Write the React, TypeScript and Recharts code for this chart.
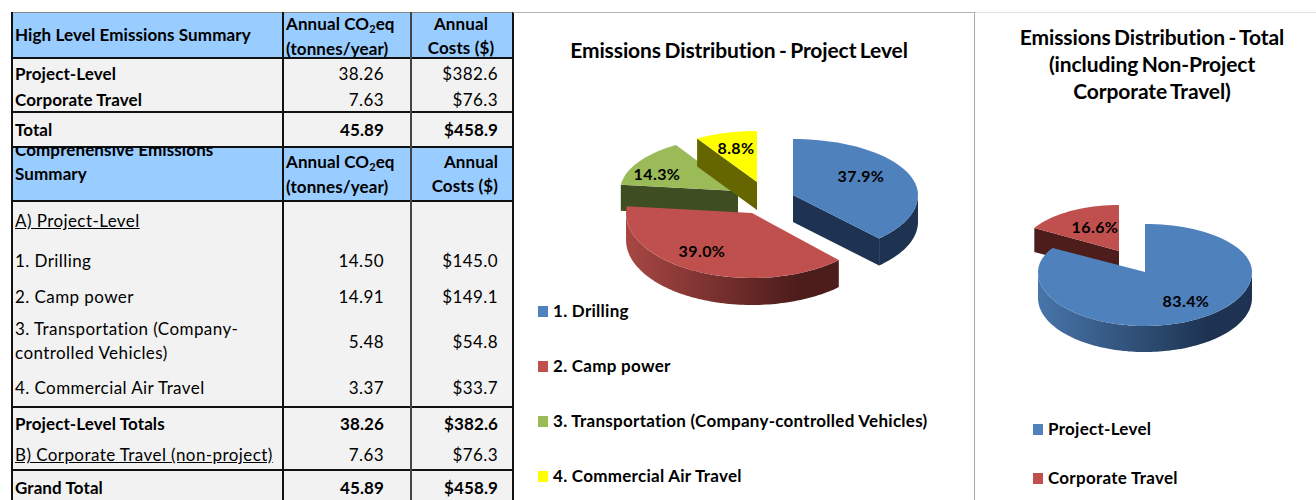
import React from "react";
import { PieChart, Pie, Legend } from "recharts";

const projectNames = ["1. Drilling", "2. Camp power", "3. Transportation (Company-controlled Vehicles)", "4. Commercial Air Travel"];
const projectValues = [14.5, 14.91, 5.48, 3.37];
const totalNames = ["Project-Level", "Corporate Travel"];
const totalValues = [38.26, 7.63];
const projectColors = ["#4f81bd", "#c0504d", "#9bbb59", "#ffff00"];
const totalColors = ["#4f81bd", "#c0504d"];
const wallColors: Record<string, string> = { "#4f81bd": "#1d3351", "#c0504d": "#4d1d1c", "#9bbb59": "#3f4d23", "#ffff00": "#666600" };
const wallLight: Record<string, string> = { "#4f81bd": "#4875aa", "#c0504d": "#a84744", "#9bbb59": "#4f6030", "#ffff00": "#808000" };

// exploded placement of each slice, relative to the pie's centre
type G = { dx: number; dy: number; rx: number; back: number; front: number; depth: number; lx: number; ly: number };
const P1 = { left: 515, cx: 260, cy: 200 };
const P2 = { left: 975, cx: 170, cy: 270 };
const projectGeo: G[] = [
  { dx: 793 - 775, dy: -5, rx: 125, back: 56, front: 60, depth: 27, lx: 861, ly: 175 },
  { dx: 752 - 775, dy: 13, rx: 126, back: 58, front: 65, depth: 27, lx: 702, ly: 250 },
  { dx: 738 - 775, dy: -9, rx: 118, back: 54, front: 54, depth: 26, lx: 657, ly: 173 },
  { dx: 757 - 775, dy: -18, rx: 114, back: 51, front: 51, depth: 28, lx: 736, ly: 147 },
];
const totalGeo: G[] = [
  { dx: 0, dy: 2, rx: 107, back: 48, front: 54, depth: 26, lx: 1186, ly: 300 },
  { dx: 1119 - 1145, dy: -19, rx: 98, back: 46, front: 48, depth: 24, lx: 1095, ly: 226 },
];

const pt = (cx: number, cy: number, g: G, deg: number) => {
  const a = (deg * Math.PI) / 180;
  const c = Math.cos(a);
  return [cx + g.rx * Math.sin(a), cy - (c > 0 ? g.back : g.front) * c];
};
const fmt = (pts: number[][]) => "M" + pts.map((p) => `${p[0].toFixed(1)},${p[1].toFixed(1)}`).join("L") + "Z";

function makeShape(geo: G[], names: string[], only: number[], gradId: string) {
  return (props: any) => {
    const i = names.indexOf(props.name ?? props.payload?.name);
    if (!only.includes(i)) return <g />;
    const g = geo[i];
    const cx = props.cx + g.dx;
    const cy = props.cy + g.dy;
    const s = 90 - props.startAngle;
    const e = 90 - props.endAngle;
    const steps = Math.max(4, Math.ceil((e - s) / 3));
    const arc: number[][] = [];
    for (let k = 0; k <= steps; k++) arc.push(pt(cx, cy, g, s + ((e - s) * k) / steps));
    const d = (p: number[]) => [p[0], p[1] + g.depth];
    const apex = [cx, cy];
    const walls: React.ReactNode[] = [];
    const dark = wallColors[props.fill];
    const sinS = Math.sin((s * Math.PI) / 180);
    const sinE = Math.sin((e * Math.PI) / 180);
    if (sinS < -0.01) walls.push(<path key="ws" d={fmt([apex, arc[0], d(arc[0]), d(apex)])} fill={dark} />);
    if (sinE > 0.01) walls.push(<path key="we" d={fmt([apex, arc[steps], d(arc[steps]), d(apex)])} fill={dark} />);
    const front: number[][] = [];
    for (let k = 0; k <= steps * 2; k++) {
      const t = s + ((e - s) * k) / (steps * 2);
      const n = ((t % 360) + 360) % 360;
      if (n >= 90 && n <= 270) front.push(pt(cx, cy, g, t));
    }
    if (front.length > 1) {
      const path = fmt([...front, ...front.slice().reverse().map(d)]);
      walls.push(<path key="wf" d={path} fill={`url(#${gradId}${i})`} />);
    }
    return (
      <g>
        {walls}
        <path d={fmt([apex, ...arc])} fill={props.fill} />
      </g>
    );
  };
}

const Grads = ({ colors, id }: { colors: string[]; id: string }) => (
  <defs>
    {colors.map((c, i) => (
      <linearGradient key={i} id={`${id}${i}`} x1="0" y1="0" x2="1" y2="0">
        {id === "a" && i === 0 ? <stop offset="0" stopColor="#1d3351" /> : <stop offset="0" stopColor={wallLight[c]} />}
        <stop offset="0.8" stopColor={wallColors[c]} />
        <stop offset="1" stopColor={wallColors[c]} />
      </linearGradient>
    ))}
  </defs>
);

const font = "Lato, sans-serif";

function makeLabel(geo: G[], names: string[], left: number, total: number, values: number[]) {
  return (props: any) => {
    const i = names.indexOf(props.name ?? props.payload?.name);
    const g = geo[i];
    return (
      <text x={g.lx - left} y={g.ly} textAnchor="middle" dominantBaseline="central" fontFamily={font} fontWeight={700} fontSize={16} letterSpacing={0.4} fill="#000">
        {((values[i] / total) * 100).toFixed(1)}%
      </text>
    );
  };
}

function legendContent(names: string[], colors: string[], step: number) {
  return () => (
    <div style={{ fontFamily: font, fontWeight: 700, fontSize: 17, letterSpacing: 0.27, color: "#000" }}>
      {names.map((n, i) => (
        <div key={n} style={{ height: step, display: "flex", alignItems: "flex-start", lineHeight: "20px" }}>
          <span style={{ width: 10, height: 11, background: colors[i], marginTop: 5, marginRight: 5, flex: "none" }} />
          <span style={{ whiteSpace: "nowrap" }}>{n}</span>
        </div>
      ))}
    </div>
  );
}

function EmissionPie({ names, values, colors, geo, back, fore, geom, id, legend }: any) {
  const data = names.map((name: string, i: number) => ({ name, value: values[i], fill: colors[i] }));
  const total = values.reduce((a: number, b: number) => a + b, 0);
  const common = {
    data, dataKey: "value", nameKey: "name", cx: geom.cx, cy: geom.cy, outerRadius: 100,
    startAngle: 90, endAngle: -270, stroke: "none", isAnimationActive: false, labelLine: false,
  };
  return (
    <PieChart width={geom.w} height={500} margin={{ top: 0, left: 0, right: 0, bottom: 0 }} style={{ position: "absolute", left: geom.left, top: 0 }}>
      <Grads colors={colors} id={id} />
      <Pie {...common} shape={makeShape(geo, names, back, id)} label={false} />
      <Pie {...common} shape={makeShape(geo, names, fore, id)} label={makeLabel(geo, names, geom.left, total, values)} />
      <Legend layout="vertical" verticalAlign="middle" align="center"
        wrapperStyle={{ left: legend.left, top: legend.top, width: legend.width }}
        content={legendContent(names, colors, legend.step)} />
    </PieChart>
  );
}

const BLUE = "#99ccff";
const GREY = "#f2f2f2";

type TP = { x: number; y: number; b?: boolean; u?: boolean; r?: boolean; c?: boolean; clip?: number; children: React.ReactNode };
const T = ({ x, y, b, u, r, c, clip, children }: TP) => {
  const style: React.CSSProperties = {
    position: "absolute", top: y - 11, height: 22, lineHeight: "22px", whiteSpace: "nowrap",
    fontWeight: b ? 700 : 400, textDecoration: u ? "underline" : "none",
    letterSpacing: b ? 0.1 : 0.42,
  };
  if (r) style.right = 520 - x;
  else if (c) { style.left = x - 100; style.width = 200; style.textAlign = "center"; }
  else style.left = x;
  if (clip != null) style.clipPath = `inset(${clip}px 0 0 0)`;
  return <div style={style}>{children}</div>;
};
const Rect = ({ x, y, w, h, fill }: any) => <div style={{ position: "absolute", left: x, top: y, width: w, height: h, background: fill }} />;
const CO2 = () => <>Annual CO<span style={{ fontSize: 11, verticalAlign: -3, lineHeight: 0 }}>2</span>eq</>;

const highRows = [["Project-Level", "38.26", "$382.6"], ["Corporate Travel", "7.63", "$76.3"]];
const highTotal = ["Total", "45.89", "$458.9"];
const detailRows = [["1. Drilling", "14.50", "$145.0"], ["2. Camp power", "14.91", "$149.1"], ["", "5.48", "$54.8"], ["4. Commercial Air Travel", "3.37", "$33.7"]];
const detailTotal = ["Project-Level Totals", "38.26", "$382.6"];
const corporate = ["B) Corporate Travel (non-project)", "7.63", "$76.3"];
const grand = ["Grand Total", "45.89", "$458.9"];

const Row = ({ row, y, b, lb, u }: any) => (
  <>
    <T x={15} y={y} b={b || lb} u={u}>{row[0]}</T>
    <T x={384} y={y} r b={b}>{row[1]}</T>
    <T x={498} y={y} r b={b}>{row[2]}</T>
  </>
);

function Table() {
  const hl = [57, 111, 146, 200, 406, 469];
  return (
    <div style={{ position: "absolute", left: 0, top: 0, width: 520, height: 500, fontFamily: font, fontSize: 17, color: "#000", overflow: "hidden" }}>
      <Rect x={11} y={12} w={501} h={488} fill={GREY} />
      <Rect x={11} y={12} w={501} h={45} fill={BLUE} />
      <Rect x={11} y={146} w={501} h={54} fill={BLUE} />
      {hl.map((y) => <Rect key={y} x={11} y={y} w={502} h={1.5} fill="#111" />)}
      <Rect x={11} y={12} w={502} h={1} fill="#888" />
      {[11, 282, 410, 512].map((x) => <Rect key={x} x={x} y={12} w={1.5} h={488} fill={x === 410 ? "#444" : "#111"} />)}
      <T x={15} y={35} b>High Level Emissions Summary</T>
      <T x={286} y={24} b><CO2 /></T>
      <T x={286} y={49} b>(tonnes/year)</T>
      <T x={461} y={24} c b>Annual</T>
      <T x={461} y={48} c b>Costs ($)</T>
      <Row row={highRows[0]} y={74} lb />
      <Row row={highRows[1]} y={100} lb />
      <Row row={highTotal} y={130} b />
      <T x={15} y={150} b clip={7}>Comprehensive Emissions</T>
      <T x={15} y={174} b>Summary</T>
      <T x={286} y={162} b><CO2 /></T>
      <T x={286} y={187} b>(tonnes/year)</T>
      <T x={498} y={162} r b>Annual</T>
      <T x={498} y={186} r b>Costs ($)</T>
      <T x={15} y={221} u>A) Project-Level</T>
      <Row row={detailRows[0]} y={261} />
      <Row row={detailRows[1]} y={297} />
      <T x={15} y={329}>3. Transportation (Company-</T>
      <T x={15} y={353}>controlled Vehicles)</T>
      <Row row={detailRows[2]} y={342} />
      <Row row={detailRows[3]} y={388} />
      <Row row={detailTotal} y={424} b />
      <Row row={corporate} y={455} u />
      <Row row={grand} y={488} b />
    </div>
  );
}

const Title = ({ x, y, lines }: any) => (
  <div style={{ position: "absolute", left: x - 200, top: y, width: 400, textAlign: "center", fontFamily: font, fontWeight: 700, fontSize: 21, letterSpacing: -0.1, wordSpacing: -1.5, lineHeight: "27px", color: "#000" }}>
    {lines.map((l: string) => <div key={l}>{l}</div>)}
  </div>
);

export default function App() {
  return (
    <div style={{ position: "fixed", left: 0, top: 0, width: 1316, height: 500, background: "#fff", overflow: "hidden" }}>
      <Table />
      <div style={{ position: "absolute", left: 513, top: 12, width: 461, height: 1, background: "#b5b5b5" }} />
      <div style={{ position: "absolute", left: 975, top: 12, width: 341, height: 1, background: "#e0e0e0" }} />
      <div style={{ position: "absolute", left: 974, top: 12, width: 1, height: 488, background: "#a6a6a6" }} />
      <Title x={739} y={36} lines={["Emissions Distribution - Project Level"]} />
      <Title x={1152} y={23} lines={["Emissions Distribution - Total", "(including Non-Project", "Corporate Travel)"]} />
      <EmissionPie names={projectNames} values={projectValues} colors={projectColors} geo={projectGeo}
        back={[2, 3]} fore={[0, 1]} id="a" geom={{ left: P1.left, cx: P1.cx, cy: P1.cy, w: 455 }}
        legend={{ left: 23, top: 301, width: 420, step: 55 }} />
      <EmissionPie names={totalNames} values={totalValues} colors={totalColors} geo={totalGeo}
        back={[1]} fore={[0]} id="b" geom={{ left: P2.left, cx: P2.cx, cy: P2.cy, w: 341 }}
        legend={{ left: 58, top: 419, width: 260, step: 49 }} />
    </div>
  );
}
